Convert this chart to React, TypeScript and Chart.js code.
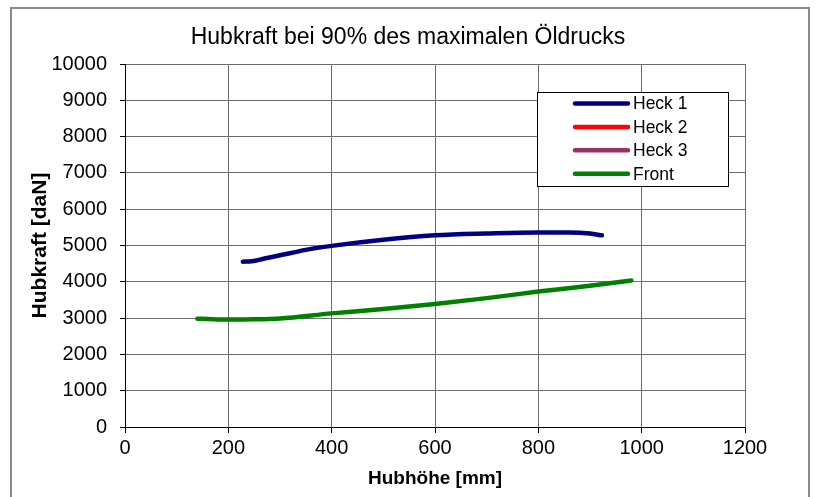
import React, { useEffect, useRef } from "react";
import { Chart, registerables } from "chart.js";

Chart.register(...registerables);

const titleText = "Hubkraft bei 90% des maximalen Öldrucks";
const xAxisTitle = "Hubhöhe [mm]";
const yAxisTitle = "Hubkraft [daN]";

const seriesNames = ["Heck 1", "Heck 2", "Heck 3", "Front"];
const seriesColors = ["#000080", "#FF0000", "#993366", "#008000"];

const heck1X = [228, 245, 270, 300, 350, 400, 500, 600, 700, 800, 860, 900, 923];
const heck1Y = [4555, 4565, 4640, 4730, 4880, 4990, 5160, 5280, 5330, 5360, 5360, 5330, 5280];

const heck2X: number[] = [];
const heck2Y: number[] = [];

const heck3X: number[] = [];
const heck3Y: number[] = [];

const frontX = [140, 160, 200, 250, 300, 400, 500, 600, 700, 800, 900, 980];
const frontY = [2985, 2975, 2960, 2965, 2990, 3130, 3250, 3390, 3550, 3730, 3890, 4035];

const xMin = 0;
const xMax = 1200;
const xStep = 200;
const yMin = 0;
const yMax = 10000;
const yStep = 1000;

const FONT = '"Liberation Sans", Arial, sans-serif';

const boxLegend = {
  id: "boxLegend",
  afterDraw(chart: any) {
    const { ctx, chartArea } = chart;
    const left = chartArea.left + 412;
    const top = chartArea.top + 28;
    const w = 191;
    const h = 94;
    ctx.save();
    ctx.fillStyle = "#ffffff";
    ctx.fillRect(left, top, w, h);
    ctx.strokeStyle = "#000000";
    ctx.lineWidth = 1;
    ctx.strokeRect(left + 0.5, top + 0.5, w, h);
    const rowH = 23.4;
    chart.data.datasets.forEach((ds: any, i: number) => {
      const cy = top + 11.5 + i * rowH;
      ctx.strokeStyle = ds.borderColor;
      ctx.lineWidth = 4.5;
      ctx.lineCap = "round";
      ctx.beginPath();
      ctx.moveTo(left + 38, cy);
      ctx.lineTo(left + 91, cy);
      ctx.stroke();
      ctx.fillStyle = "#000000";
      ctx.font = `17.5px ${FONT}`;
      ctx.textBaseline = "middle";
      ctx.textAlign = "left";
      ctx.fillText(ds.label, left + 96, cy + 1);
    });
    ctx.restore();
  },
};

const xs = [heck1X, heck2X, heck3X, frontX];
const ys = [heck1Y, heck2Y, heck3Y, frontY];

const plainNumber = (v: any) => String(v);

export default function App() {
  const canvasRef = useRef<HTMLCanvasElement | null>(null);

  useEffect(() => {
    if (!canvasRef.current) return;
    Chart.defaults.font.family = FONT;
    Chart.defaults.color = "#000000";
    const datasets = seriesNames.map((name, i) => ({
      label: name,
      data: xs[i].map((x, j) => ({ x, y: ys[i][j] })),
      borderColor: seriesColors[i],
      backgroundColor: seriesColors[i],
      borderWidth: 4.5,
      pointRadius: 0,
      pointHoverRadius: 0,
      showLine: true,
      fill: false,
      tension: 0.4,
      cubicInterpolationMode: "monotone" as const,
      borderCapStyle: "round" as const,
      borderJoinStyle: "round" as const,
      yAxisID: "y",
    }));

    const chart = new Chart(canvasRef.current, {
      type: "scatter",
      data: { datasets },
      plugins: [boxLegend],
      options: {
        animation: false,
        responsive: true,
        maintainAspectRatio: false,
        layout: { padding: 0 },
        plugins: {
          legend: { display: false },
          tooltip: { enabled: false },
          title: {
            display: true,
            text: titleText,
            color: "#000000",
            font: { size: 23, weight: "normal", family: FONT },
            padding: { top: 23.7, bottom: 12.7 },
          },
        },
        scales: {
          x: {
            type: "linear",
            position: "bottom",
            min: xMin,
            max: xMax,
            afterFit: (s: any) => {
              s.height = 70;
            },
            ticks: {
              stepSize: xStep,
              padding: 3,
              color: "#000000",
              font: { size: 20, family: FONT },
              maxRotation: 0,
              callback: plainNumber,
            },
            grid: {
              color: "#6e6e6e",
              tickColor: "#000000",
              tickLength: 6,
              lineWidth: 1,
            },
            border: { color: "#000000", width: 1 },
            title: {
              display: true,
              text: xAxisTitle,
              color: "#000000",
              font: { size: 19, weight: "bold", family: FONT },
              padding: { top: 0, bottom: 6.6 },
            },
          },
          y: {
            type: "linear",
            position: "left",
            min: yMin,
            max: yMax,
            afterFit: (s: any) => {
              s.width = 125;
            },
            ticks: {
              stepSize: yStep,
              padding: 13,
              color: "#000000",
              font: { size: 20, family: FONT },
              callback: plainNumber,
            },
            grid: {
              color: "#6e6e6e",
              tickColor: "#000000",
              tickLength: 5,
              lineWidth: 1,
            },
            border: { color: "#000000", width: 1 },
            title: {
              display: true,
              text: yAxisTitle,
              color: "#000000",
              font: { size: 21, weight: "bold", family: FONT },
              padding: { top: 27.4, bottom: 0 },
            },
          },
          yR: {
            type: "linear",
            position: "right",
            display: true,
            min: yMin,
            max: yMax,
            afterFit: (s: any) => {
              s.width = 71;
            },
            ticks: { display: false },
            grid: { display: false, drawTicks: false },
            border: { display: false },
          },
        },
      },
    });
    return () => chart.destroy();
  }, []);

  return (
    <>
      <div
        style={{
          position: "fixed",
          left: 0,
          top: 0,
          width: "816px",
          height: "497px",
          background: "#ffffff",
        }}
      >
        <canvas ref={canvasRef} />
      </div>
      <div
        style={{
          position: "fixed",
          left: "10px",
          top: "7px",
          width: "800px",
          height: "600px",
          boxSizing: "border-box",
          border: "2px solid #8a8a8a",
          pointerEvents: "none",
        }}
      />
    </>
  );
}
